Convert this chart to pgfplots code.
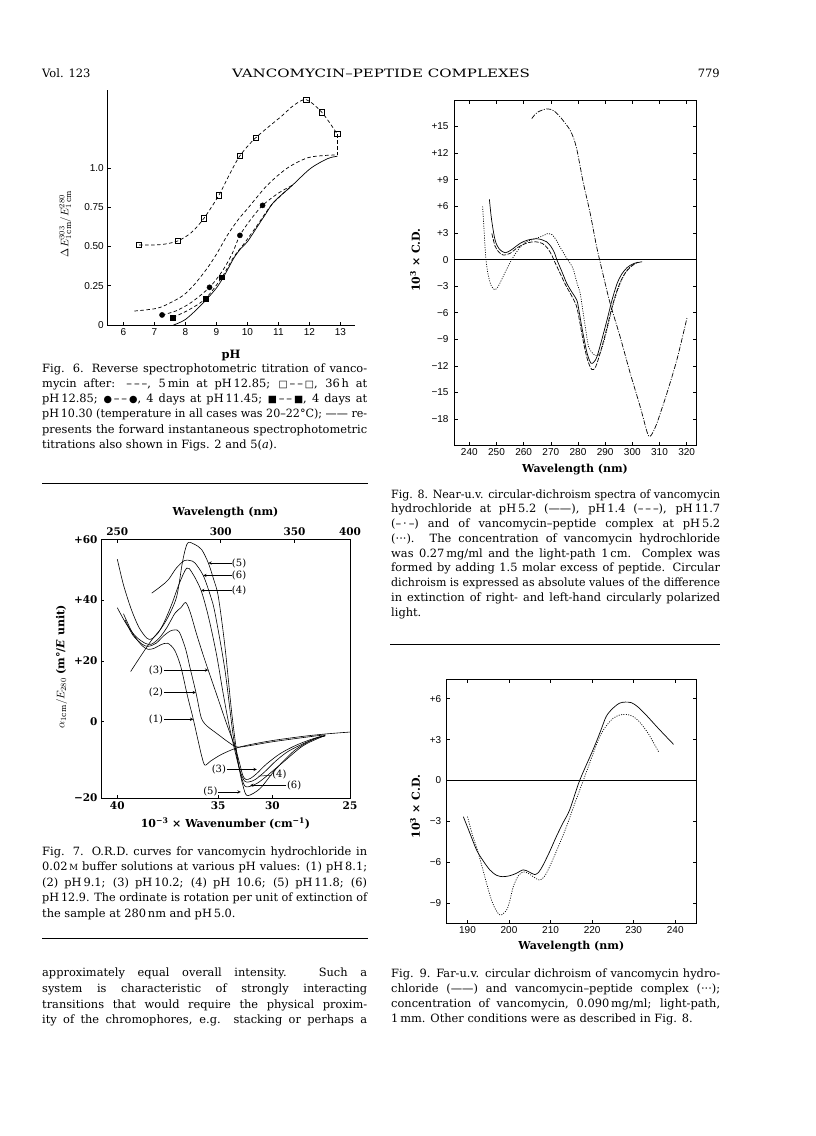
\documentclass[border=0pt]{standalone}
\usepackage{fontspec}
\setmainfont{DejaVu Serif}
\newfontfamily\sansf{Liberation Sans}
\newfontfamily\symf[Scale=0.85]{DejaVu Sans}
\usepackage{graphicx}
\usepackage{pgfplots}
\pgfplotsset{compat=1.18}
\newlength\colw
\setlength\colw{325bp}
\newsavebox\lbox
\newcommand\jl[1]{\sbox\lbox{#1}\ifdim\wd\lbox>\colw\resizebox{\colw}{\height}{\usebox\lbox}\else\hbox to \colw{#1}\fi}
\newcommand\cf{\fontsize{11.4bp}{13bp}\selectfont}
\newcommand\lp[1]{(#1)}
\pgfplotsset{
  pg/.style={scale only axis, anchor=south west, tick align=inside, major tick length=3.5bp,
    axis line style={line width=0.7bp}, major tick style={line width=0.6bp, black},
    tick label style={font=\sansf\fontsize{10bp}{10bp}\selectfont},
    xlabel style={font=\bfseries\fontsize{11bp}{12bp}\selectfont},
    ylabel style={font=\bfseries\fontsize{11bp}{12bp}\selectfont},
  },
  c6/.style={black, line width=0.7bp, smooth},
  dsh/.style={dash pattern=on 3.5bp off 2.5bp},
  c7/.style={black, line width=0.6bp, smooth},
}
\tikzset{
  lab7/.style={font=\fontsize{10bp}{10bp}\selectfont, inner sep=0pt},
  arr7/.style={-stealth, line width=0.5bp},
}
\begin{document}
\begin{tikzpicture}
\useasboundingbox (0bp,0bp) rectangle (816bp,-1136bp);
% ---------- header ----------
\node[anchor=base west, inner sep=0pt, font=\fontsize{11.5bp}{12bp}\selectfont] at (42bp,-77bp) {Vol. 123};
\node[anchor=base, inner sep=0pt] at (381bp,-77bp) {\resizebox{298bp}{\height}{\fontsize{11.5bp}{12bp}\selectfont VANCOMYCIN–PEPTIDE COMPLEXES}};
\node[anchor=base east, inner sep=0pt, font=\fontsize{11.5bp}{12bp}\selectfont] at (720bp,-77bp) {779};

% ---------- Fig. 6 ----------
\begin{axis}[pg, at={(107.3bp,-325bp)}, width=247.7bp, height=235bp,
  xmin=5.484, xmax=13.47, ymin=0, ymax=1.497,
  axis x line*=bottom, axis y line*=left,
  x axis line style={-}, y axis line style={-},
  xtick={6,7,8,9,10,11,12,13}, xticklabels={6,7,8,9,10,11,12,13},
  ytick={0,0.25,0.5,0.75,1}, yticklabels={0,0.25,0.50,0.75,1.0},
  xlabel={pH}, xlabel style={at={(axis description cs:0.5,-0.128)}, anchor=center, font=\bfseries\fontsize{11.5bp}{12bp}\selectfont},
  ylabel={$\Delta E^{303}_{1\,\mathrm{cm}}/E^{280}_{1\,\mathrm{cm}}$},
  ylabel style={at={(axis description cs:-0.17,0.43)}, anchor=center, font=\fontsize{11bp}{12bp}\selectfont},
]
\addplot[c6, dsh] coordinates {(6.36,0.089) (7.08,0.106) (7.5,0.14) (7.94,0.19) (8.3,0.26) (8.70,0.36) (9.0,0.45) (9.35,0.57) (9.7,0.67) (10.0,0.74) (10.64,0.89) (11.29,1.0) (11.94,1.065) (12.5,1.08) (12.9,1.083)};
\addplot[c6, dsh] coordinates {(6.51,0.51) (7.2,0.512) (7.75,0.535) (8.2,0.59) (8.6,0.68) (9.08,0.826) (9.4,0.95) (9.76,1.078) (10.26,1.191) (11.1,1.33) (11.5,1.40) (11.9,1.435) (12.4,1.355) (12.9,1.216)};
\addplot[black, line width=0.7bp, dsh] coordinates {(12.9,1.216) (12.9,1.083)};
\addplot[c6, dsh] coordinates {(7.25,0.064) (7.7,0.09) (8.2,0.145) (8.78,0.24) (9.18,0.34) (9.5,0.45) (9.76,0.571) (10.1,0.67) (10.49,0.762) (11.0,0.84) (11.45,0.89)};
\addplot[c6, dsh] coordinates {(7.60,0.049) (8.1,0.095) (8.65,0.168) (9.18,0.304) (9.55,0.43) (9.9,0.52) (10.3,0.63) (10.8,0.77) (11.45,0.89)};
\addplot[c6] coordinates {(7.62,0.0) (8.0,0.035) (8.5,0.125) (9.0,0.235) (9.3,0.33) (9.56,0.425) (9.8,0.49) (10.0,0.53) (10.32,0.626) (10.6,0.71) (10.86,0.785) (11.45,0.89) (12.04,0.998) (12.59,1.06) (12.9,1.075)};
\addplot[only marks, mark=square, mark size=2.6bp, mark options={fill=white, line width=0.6bp}] coordinates {(6.51,0.51) (7.75,0.535) (8.6,0.68) (9.08,0.826) (9.76,1.078) (10.26,1.191) (11.9,1.435) (12.4,1.355) (12.9,1.216)};
\addplot[only marks, mark=*, mark size=2.6bp] coordinates {(7.25,0.064) (8.78,0.24) (9.76,0.571) (10.49,0.762)};
\addplot[only marks, mark=square*, mark size=2.4bp] coordinates {(7.60,0.049) (8.65,0.168) (9.18,0.304)};
\end{axis}

% Fig. 6 caption
\begin{scope}[every node/.style={anchor=base west, inner sep=0pt, font=\cf}]
\node at (42bp,-372bp) {\jl{Fig. 6. Reverse spectrophotometric titration of vanco-}};
\node at (42bp,-387.3bp) {\jl{mycin after: –\,–\,–, 5\,min at pH\,12.85; {\symf □}\,–\,–\,{\symf □}, 36\,h at}};
\node at (42bp,-402.6bp) {\jl{pH\,12.85; {\symf ●}\,–\,–\,{\symf ●}, 4 days at pH\,11.45; {\symf ■}\,–\,–\,{\symf ■}, 4 days at}};
\node at (42bp,-417.9bp) {\jl{pH\,10.30 (temperature in all cases was 20–22°C); —— re-}};
\node at (42bp,-433.2bp) {\jl{presents the forward instantaneous spectrophotometric}};
\node at (42bp,-448.5bp) {titrations also shown in Figs. 2 and 5(\textit{a}).};
\end{scope}

% ---------- Fig. 7 ----------
\draw[line width=1bp] (42bp,-483bp) -- (368bp,-483bp);
\begin{axis}[pg, at={(101bp,-798bp)}, width=249bp, height=258.7bp,
  xmin=25, xmax=41.05, x dir=reverse, ymin=-25.1, ymax=60,
  xtick pos=left, ytick pos=left,
  xtick={40,33.5,30,25}, xticklabels={40,35,30,25},
  ytick={-25.1,0,20,40,60}, yticklabels={−20,0,+20,+40,+60},
  tick label style={font=\bfseries\fontsize{10.5bp}{11bp}\selectfont},
  xlabel={10\textsuperscript{−3} × Wavenumber (cm\textsuperscript{−1})},
  xlabel style={at={(axis description cs:0.5,-0.097)}, anchor=center, font=\bfseries\fontsize{11bp}{12bp}\selectfont},
  ylabel={$\alpha_{1\mathrm{cm}}/E_{280}$ (m°/\textit{E} unit)},
  ylabel style={at={(axis description cs:-0.158,0.5075)}, anchor=center, font=\bfseries\fontsize{11bp}{12bp}\selectfont},
]
\addplot[c7] coordinates {(39.6,35.5) (39.0,29) (38.4,25) (38.0,23.8) (37.6,24.2) (37.2,25.3) (36.75,25.8) (36.3,23.5) (35.9,18) (35.5,9) (35.1,0.8) (34.8,-6) (34.55,-11.5) (34.35,-14.3) (34.0,-13) (33.3,-10.8) (32.4,-8.8) (31.5,-7.6) (30,-6.2) (28,-4.8) (26.5,-4.0) (25.0,-3.4)};
\addplot[c7] coordinates {(39.5,33.5) (39.0,28.5) (38.4,25.5) (38.0,24.8) (37.5,25.8) (37.0,28.3) (36.6,29.8) (36.28,30.2) (36.0,29.5) (35.6,24) (35.3,17.5) (34.93,9.6) (34.65,2.5) (34.5,0.3) (34.2,-1.5) (33.5,-4.2) (32.9,-6.5) (32.3,-8.3) (31.5,-7.9) (30,-6.6) (28,-5.2) (26.6,-4.3)};
\addplot[c7] coordinates {(40.0,37.5) (39.4,32) (38.8,28) (38.2,25.8) (37.8,25.5) (37.3,27.5) (36.8,31) (36.28,35.7) (35.9,37.5) (35.59,39.2) (35.3,36) (34.9,29) (34.5,22.5) (34.14,17.0) (33.6,9) (33.0,0) (32.4,-8.5) (32.1,-14) (31.9,-17.8) (31.7,-19) (31.4,-18.6) (31.0,-17) (30.4,-14) (29.5,-10.5) (28.5,-7.8) (27.5,-5.8) (26.6,-4.5)};
\addplot[c7] coordinates {(40.0,53.5) (39.6,45) (39.1,37) (38.6,31) (38.1,27.5) (37.8,27.2) (37.4,29) (37.0,32.5) (36.5,38.5) (36.0,45.5) (35.53,50.5) (35.2,49.2) (34.6,43.2) (34.1,34) (33.6,22) (33.2,10) (32.8,-1) (32.4,-10) (32.1,-16) (31.8,-19.5) (31.5,-19.8) (31.1,-19) (30.5,-16.5) (29.8,-13) (29.0,-9.8) (28.0,-7.2) (27.2,-5.5) (26.6,-4.6)};
\addplot[c7] coordinates {(39.14,16.5) (38.5,21.5) (37.78,26.9) (37.2,30.5) (36.71,34.6) (36.17,41.2) (35.81,52.2) (35.6,57) (35.42,59.0) (35.0,58.3) (34.56,56.6) (34.13,52.2) (33.8,47) (33.49,41.2) (33.06,24.7) (32.62,2.8) (32.2,-13.7) (31.9,-21) (31.66,-24.2) (31.2,-23.5) (30.69,-21.4) (29.83,-15.9) (28.54,-9.3) (27.25,-5.5) (26.6,-4.7)};
\addplot[c7] coordinates {(37.78,42.3) (37.2,44.5) (36.71,46.7) (36.2,50.5) (35.68,53.0) (35.3,53) (34.99,52.2) (34.46,48.1) (34.0,41.5) (33.70,35.7) (33.06,17.0) (32.52,-4.9) (32.1,-16) (31.77,-21.2) (31.2,-20.8) (30.69,-19.2) (29.4,-13.7) (28.11,-8.2) (27.2,-5.8) (26.6,-4.6)};
\draw[arr7] (axis cs:32.62,52.2) -- (axis cs:34.13,52.2);
\node[lab7] at (axis cs:32.15,52.2) {\lp{5}};
\draw[arr7] (axis cs:32.62,48.1) -- (axis cs:34.46,48.1);
\node[lab7] at (axis cs:32.15,48.1) {\lp{6}};
\draw[arr7] (axis cs:32.62,43.2) -- (axis cs:34.6,43.2);
\node[lab7] at (axis cs:32.15,43.2) {\lp{4}};
\draw[arr7] (axis cs:37.0,17.0) -- (axis cs:34.14,17.0);
\node[lab7] at (axis cs:37.5,17.0) {\lp{3}};
\draw[arr7] (axis cs:37.0,9.6) -- (axis cs:34.93,9.6);
\node[lab7] at (axis cs:37.5,9.6) {\lp{2}};
\draw[arr7] (axis cs:37.0,0.8) -- (axis cs:35.1,0.8);
\node[lab7] at (axis cs:37.5,0.8) {\lp{1}};
\draw[arr7] (axis cs:32.95,-15.7) -- (axis cs:31.01,-15.7);
\node[lab7] at (axis cs:33.45,-15.7) {\lp{3}};
\draw[line width=0.5bp] (axis cs:30.05,-17.6) -- (axis cs:30.9,-17.9);
\node[lab7] at (axis cs:29.55,-17.4) {\lp{4}};
\draw[arr7] (axis cs:29.1,-20.9) -- (axis cs:31.44,-20.9);
\node[lab7] at (axis cs:28.6,-20.9) {\lp{6}};
\draw[arr7] (axis cs:33.5,-23.1) -- (axis cs:32.04,-23.1);
\node[lab7] at (axis cs:34.0,-23.1) {\lp{5}};
\end{axis}
\begin{axis}[pg, at={(101bp,-798bp)}, width=249bp, height=258.7bp,
  xmin=25, xmax=41.05, x dir=reverse, ymin=-25.1, ymax=60,
  axis x line*=top, hide y axis, x axis line style={-},
  xtick={40,33.3333,28.5714,25}, xticklabels={250,300,350,400},
  tick label style={font=\bfseries\fontsize{10.5bp}{11bp}\selectfont},
  xlabel={Wavelength (nm)},
  xlabel style={at={(axis description cs:0.5,1.103)}, anchor=center, font=\bfseries\fontsize{11bp}{12bp}\selectfont},
]
\addplot[draw=none] coordinates {(30,0)};
\end{axis}

% Fig. 7 caption
\begin{scope}[every node/.style={anchor=base west, inner sep=0pt, font=\cf}]
\node at (42bp,-855bp) {\jl{Fig. 7. O.R.D. curves for vancomycin hydrochloride in}};
\node at (42bp,-870.5bp) {\jl{0.02\,{\fontsize{8.5bp}{9bp}\selectfont M} buffer solutions at various pH values: (1) pH\,8.1;}};
\node at (42bp,-886bp) {\jl{(2) pH\,9.1; (3) pH\,10.2; (4) pH 10.6; (5) pH\,11.8; (6)}};
\node at (42bp,-901.5bp) {\jl{pH\,12.9. The ordinate is rotation per unit of extinction of}};
\node at (42bp,-917bp) {the sample at 280\,nm and pH\,5.0.};
\end{scope}
\draw[line width=1bp] (42bp,-938bp) -- (368bp,-938bp);

% body text
\begin{scope}[every node/.style={anchor=base west, inner sep=0pt, font=\cf}]
\node at (42bp,-976.5bp) {\jl{approximately equal overall intensity. Such a}};
\node at (42bp,-992.3bp) {\jl{system is characteristic of strongly interacting}};
\node at (42bp,-1008bp) {\jl{transitions that would require the physical proxim-}};
\node at (42bp,-1023.8bp) {\jl{ity of the chromophores, e.g. stacking or perhaps a}};
\end{scope}

% ---------- Fig. 8 ----------
\begin{axis}[pg, at={(454bp,-445bp)}, width=242bp, height=345bp,
  xmin=234.37, xmax=323.44, ymin=-20.92, ymax=18,
  xtick={240,250,260,270,280,290,300,310,320}, xticklabels={240,250,260,270,280,290,300,310,320},
  ytick={-18,-15,-12,-9,-6,-3,0,3,6,9,12,15}, yticklabels={−18,−15,−12,−9,−6,−3,0,+3,+6,+9,+12,+15},
  yticklabel style={xshift=-2bp},
  xlabel={Wavelength (nm)},
  xlabel style={at={(axis description cs:0.5,-0.0725)}, anchor=center},
  ylabel={10\textsuperscript{3} × C.D.},
  ylabel style={at={(axis description cs:-0.161,0.536)}, anchor=center},
]
\addplot[black, line width=0.7bp] coordinates {(234.37,0) (323.44,0)};
\addplot[c6] coordinates {(247.4,6.8) (248.2,4.5) (249.5,2.2) (251,1.2) (253.2,0.77) (255.5,1.1) (258.7,1.83) (261.5,2.2) (264.9,2.35) (267,2.2) (268.5,2.0) (270,1.5) (271.3,0.8) (272.2,0.0) (274,-1.3) (275.9,-2.7) (277.8,-3.7) (279.6,-4.6) (280.5,-6) (281.4,-7.6) (283.3,-10.5) (284.8,-11.7) (286,-11.5) (287.0,-10.95) (288.8,-9) (290.7,-6.8) (292.5,-4.6) (294.4,-2.7) (296.2,-1.6) (298.1,-0.9) (300.5,-0.45) (303.6,-0.25)};
\addplot[c6, dash pattern=on 4.5bp off 1.5bp] coordinates {(248.3,2.95) (249.5,1.5) (251,0.8) (252.6,0.5) (255,0.7) (258,1.4) (261.5,1.9) (264.5,2.0) (267,1.8) (269,1.2) (270.5,0.4) (271.5,-0.3) (273.5,-1.6) (275.5,-2.9) (277.5,-4.0) (279.4,-5.2) (280.5,-6.8) (282,-9.3) (283.5,-11.3) (285.1,-12.4) (286.5,-12.1) (288.3,-10.4) (290.4,-8.0) (292.5,-5.4) (294.7,-3.2) (297,-1.7) (299.5,-0.8) (302,-0.3)};
\addplot[c6, dash pattern=on 1bp off 1.4bp] coordinates {(244.9,6.0) (245.4,3.5) (246,0.5) (246.8,-1.5) (248,-2.9) (249.3,-3.4) (250.5,-3.1) (252,-2.2) (253.9,-1.0) (256,0.2) (258.7,1.4) (261,2.0) (263.6,2.3) (266.5,2.6) (269.1,2.95) (270.5,2.8) (272,2.2) (273.4,1.4) (274.8,0.7) (275.9,0.1) (277.3,-0.5) (278.4,-1.2) (279.5,-2.5) (280.8,-3.8) (281.8,-5.8) (282.7,-7.6) (283.9,-9.8) (285.8,-10.7) (287.2,-10.8) (288.2,-10.5) (289.5,-9.3) (291,-7.5) (293,-5) (295.5,-2.7) (298,-1.2) (301,-0.4)};
\addplot[c6, dash pattern=on 5bp off 1.5bp on 1bp off 1.5bp] coordinates {(263.0,15.9) (265,16.6) (268.5,17.0) (271,16.8) (273.4,16.1) (275.5,15.3) (277.1,14.6) (278.5,13.6) (279.6,12.4) (280.8,10.5) (282.0,8.6) (284.5,5.2) (286.9,1.4) (289.4,-1.9) (291.8,-4.9) (295.5,-8.7) (299.2,-12.8) (302.9,-16.6) (305,-19) (306.0,-19.9) (307,-19.8) (309.0,-18.5) (312.7,-15.1) (316.4,-11.3) (320.1,-6.6)};
\end{axis}

% Fig. 8 caption
\setlength\colw{329bp}
\begin{scope}[every node/.style={anchor=base west, inner sep=0pt, font=\cf}]
\node at (391bp,-498bp) {\jl{Fig. 8. Near-u.v. circular-dichroism spectra of vancomycin}};
\node at (391bp,-512.8bp) {\jl{hydrochloride at pH\,5.2 (——), pH\,1.4 (–\,–\,–), pH\,11.7}};
\node at (391bp,-527.5bp) {\jl{(–\,·\,–) and of vancomycin–peptide complex at pH\,5.2}};
\node at (391bp,-542.3bp) {\jl{(···). The concentration of vancomycin hydrochloride}};
\node at (391bp,-557bp) {\jl{was 0.27\,mg/ml and the light-path 1\,cm. Complex was}};
\node at (391bp,-571.8bp) {\jl{formed by adding 1.5 molar excess of peptide. Circular}};
\node at (391bp,-586.5bp) {\jl{dichroism is expressed as absolute values of the difference}};
\node at (391bp,-601.3bp) {\jl{in extinction of right- and left-hand circularly polarized}};
\node at (391bp,-616bp) {light.};
\end{scope}
\draw[line width=1bp] (390bp,-644bp) -- (720bp,-644bp);

% ---------- Fig. 9 ----------
\begin{axis}[pg, at={(446.7bp,-923.3bp)}, width=249.3bp, height=244bp,
  xmin=185, xmax=245, ymin=-10.47, ymax=7.42,
  xtick={190,200,210,220,230,240}, xticklabels={190,200,210,220,230,240},
  ytick={-9,-6,-3,0,3,6}, yticklabels={−9,−6,−3,0,+3,+6},
  yticklabel style={xshift=-2bp},
  xlabel={Wavelength (nm)},
  xlabel style={at={(axis description cs:0.5,-0.096)}, anchor=center},
  ylabel={10\textsuperscript{3} × C.D.},
  ylabel style={at={(axis description cs:-0.127,0.478)}, anchor=center},
]
\addplot[black, line width=0.7bp] coordinates {(185,0) (245,0)};
\addplot[c6] coordinates {(189.0,-2.65) (190.5,-3.8) (192.2,-5.1) (193.8,-5.9) (195.4,-6.56) (197,-6.95) (198.5,-7.05) (200.2,-6.98) (201.8,-6.8) (203.4,-6.55) (204.8,-6.7) (206.2,-6.9) (207.2,-6.7) (208.2,-6.2) (209.8,-5.2) (211.4,-4.1) (213,-3.1) (214.6,-2.15) (217.0,0) (220.2,2.24) (222,3.6) (223.4,4.7) (225,5.3) (226.6,5.67) (228,5.75) (229.5,5.7) (231,5.4) (233,4.8) (236,3.8) (239.6,2.65)};
\addplot[c6, dash pattern=on 1bp off 1.4bp] coordinates {(190.0,-2.65) (191.2,-4.0) (192.2,-4.9) (193.5,-6.3) (194.6,-7.54) (195.6,-8.6) (196.6,-9.36) (197.9,-9.87) (199.4,-9.5) (200.2,-8.8) (201.0,-7.8) (202.2,-7.0) (203.4,-6.7) (204.6,-6.8) (205.8,-7.05) (207.4,-7.3) (208.6,-7.0) (209.8,-6.3) (211.8,-4.9) (213.8,-3.4) (215.8,-1.7) (217.8,-0.05) (219.8,1.6) (221.8,3.2) (223.4,4.0) (225,4.55) (226.6,4.8) (228.2,4.85) (229.8,4.7) (231.4,4.3) (233.6,3.4) (236.0,2.1)};
\end{axis}

% Fig. 9 caption
\begin{scope}[every node/.style={anchor=base west, inner sep=0pt, font=\cf}]
\node at (391bp,-977bp) {\jl{Fig. 9. Far-u.v. circular dichroism of vancomycin hydro-}};
\node at (391bp,-992bp) {\jl{chloride (——) and vancomycin–peptide complex (···);}};
\node at (391bp,-1007bp) {\jl{concentration of vancomycin, 0.090\,mg/ml; light-path,}};
\node at (391bp,-1022bp) {1\,mm. Other conditions were as described in Fig. 8.};
\end{scope}
\end{tikzpicture}
\end{document}
